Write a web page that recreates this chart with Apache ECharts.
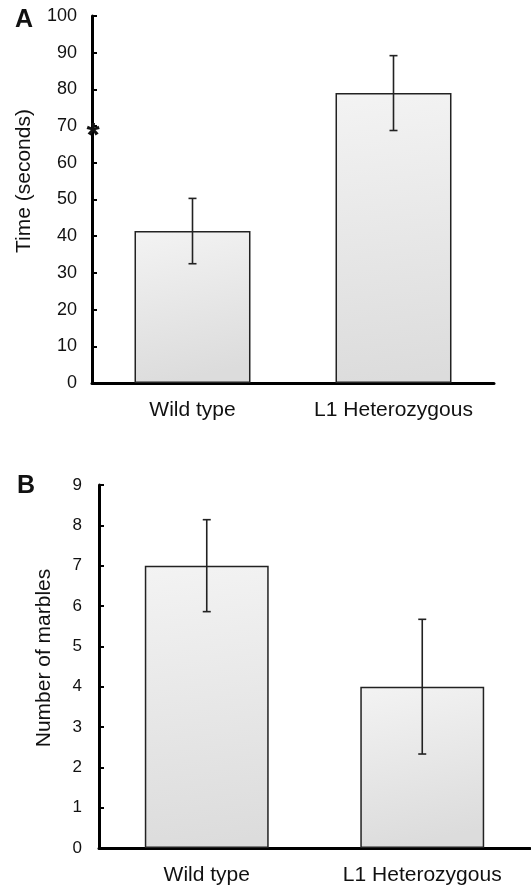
<!DOCTYPE html>
<html>
<head>
<meta charset="utf-8">
<script src="https://cdn.jsdelivr.net/npm/echarts@6/dist/echarts.min.js"></script>
<style>
html,body{margin:0;padding:0;background:#fff;}
#chart{width:531px;height:888px;}
</style>
</head>
<body>
<div id="chart"></div>
<script>
const categories = ['Wild type', 'L1 Heterozygous'];
const timeMeans = [41.4, 79.0];
const timeErrors = [8.9, 10.2];
const marbleMeans = [7.0, 4.0];
const marbleErrors = [1.14, 1.67];

const FONT = 'Liberation Sans, Arial, sans-serif';
const barFill = {
  type: 'linear', x: 0, y: 0, x2: 0.3, y2: 1,
  colorStops: [{offset: 0, color: '#f3f3f3'}, {offset: 1, color: '#dcdcdc'}]
};

function errData(means, errs) {
  return means.map((m, i) => [i, m - errs[i], m + errs[i]]);
}
function errRender(params, api) {
  const i = api.value(0);
  const lo = api.coord([i, api.value(1)]);
  const hi = api.coord([i, api.value(2)]);
  const cap = 4;
  const style = {stroke: '#222', lineWidth: 1.6};
  return {
    type: 'group',
    children: [
      {type: 'line', shape: {x1: hi[0], y1: hi[1], x2: lo[0], y2: lo[1]}, style},
      {type: 'line', shape: {x1: hi[0] - cap, y1: hi[1], x2: hi[0] + cap, y2: hi[1]}, style},
      {type: 'line', shape: {x1: lo[0] - cap, y1: lo[1], x2: lo[0] + cap, y2: lo[1]}, style}
    ]
  };
}

function yAxisCfg(gridIndex, max, interval, labelSize, margin) {
  return {
    type: 'value', gridIndex, min: 0, max, interval,
    axisLine: {show: true, lineStyle: {color: '#000', width: 3}},
    axisTick: {show: true, inside: true, length: 5, lineStyle: {color: '#000', width: 2}},
    axisLabel: {fontFamily: FONT, fontSize: labelSize, color: '#111', margin},
    splitLine: {show: false}
  };
}
function xAxisCfg(gridIndex) {
  return {
    type: 'category', gridIndex, data: categories,
    axisLine: {show: true, lineStyle: {color: '#000', width: 3}},
    axisTick: {show: false},
    axisLabel: {fontFamily: FONT, fontSize: 21, color: '#111', margin: 17, interval: 0, hideOverlap: false}
  };
}

const chart = echarts.init(document.getElementById('chart'), null, {renderer: 'canvas'});
chart.setOption({
  backgroundColor: '#fff',
  animation: false,
  grid: [
    {left: 92, top: 16, right: 37, bottom: 505},
    {left: 99, top: 485, right: 1, bottom: 40}
  ],
  xAxis: [xAxisCfg(0), xAxisCfg(1)],
  yAxis: [
    yAxisCfg(0, 100, 10, 18, 15),
    yAxisCfg(1, 9, 1, 17, 17)
  ],
  graphic: [
    {type: 'text', left: 15, top: 8, style: {text: 'A', font: 'bold 25px ' + FONT, fill: '#111'}},
    {type: 'text', left: 17, top: 474, style: {text: 'B', font: 'bold 25px ' + FONT, fill: '#111'}},
    {type: 'text', x: 24, y: 181, rotation: Math.PI / 2,
     style: {text: 'Time (seconds)', font: '21px ' + FONT, fill: '#111', align: 'center', verticalAlign: 'middle'}},
    {type: 'text', x: 44, y: 658, rotation: Math.PI / 2,
     style: {text: 'Number of marbles', font: '21px ' + FONT, fill: '#111', align: 'center', verticalAlign: 'middle'}},
    {type: 'text', x: 93, y: 137, z: 10, style: {text: '*', font: 'bold 34px ' + FONT, fill: '#111', align: 'center', verticalAlign: 'middle'}}
  ],
  series: [
    {
      type: 'bar', xAxisIndex: 0, yAxisIndex: 0, data: timeMeans, barWidth: '57.7%',
      itemStyle: {color: barFill, borderColor: '#222', borderWidth: 1.5}, z: 2
    },
    {
      type: 'custom', xAxisIndex: 0, yAxisIndex: 0, data: errData(timeMeans, timeErrors),
      renderItem: errRender, z: 3
    },
    {
      type: 'bar', xAxisIndex: 1, yAxisIndex: 1, data: marbleMeans, barWidth: '57.5%',
      itemStyle: {color: barFill, borderColor: '#222', borderWidth: 1.5}, z: 2
    },
    {
      type: 'custom', xAxisIndex: 1, yAxisIndex: 1, data: errData(marbleMeans, marbleErrors),
      renderItem: errRender, z: 3
    }
  ]
});
</script>
</body>
</html>
